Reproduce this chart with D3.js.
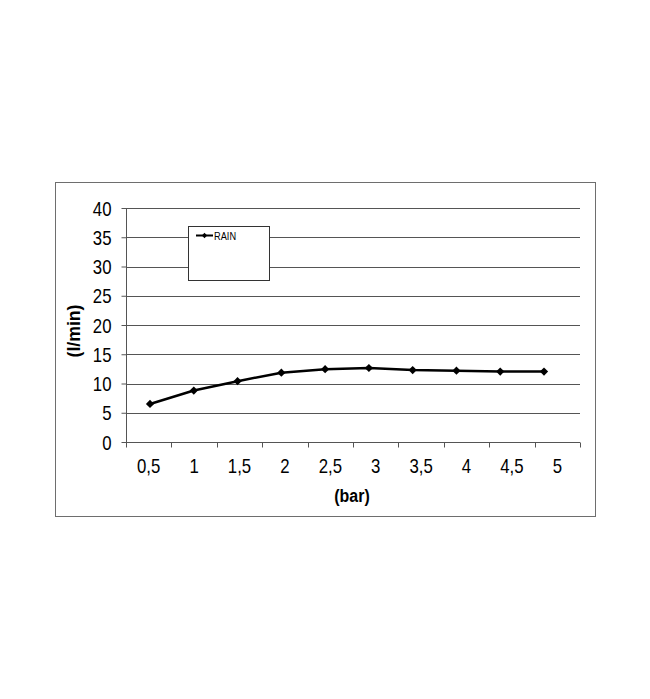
<!DOCTYPE html>
<html>
<head>
<meta charset="utf-8">
<script src="https://cdn.jsdelivr.net/npm/d3@7"></script>
<style>
  html, body { margin: 0; padding: 0; background: #fff; }
  svg { display: block; }
  text { font-family: "Liberation Sans Narrow", "Arial Narrow", "Liberation Sans", Arial, sans-serif; fill: #000; }
</style>
</head>
<body>
<svg id="chart" width="650" height="699"></svg>
<script>
// ---- data ----
const categories = ["0,5", "1", "1,5", "2", "2,5", "3", "3,5", "4", "4,5", "5"];
const rainValues = [6.5, 8.8, 10.4, 11.85, 12.45, 12.65, 12.3, 12.2, 12.05, 12.05];
const yTicks = [0, 5, 10, 15, 20, 25, 30, 35, 40];
const seriesName = "RAIN";
const xTitle = "(bar)";
const yTitle = "(l/min)";

// ---- layout ----
const svg = d3.select("#chart");
const plot = { left: 126, right: 580, top: 208, bottom: 442 };
const narrow = 0.84;

svg.append("rect")
  .attr("x", 55.5).attr("y", 182.5).attr("width", 540).attr("height", 334)
  .attr("fill", "none").attr("stroke", "#6e6e6e").attr("stroke-width", 1);

const x = d3.scaleBand().domain(categories).range([plot.left, plot.right]).padding(0);
// marker positions (series drawn slightly compressed as in the reference)
const xp = d3.scalePoint().domain(categories).range([150, 544]);
const y = d3.scaleLinear().domain([0, 40]).range([plot.bottom, plot.top]);

// gridlines
svg.append("g").selectAll("line")
  .data(yTicks.filter(d => d > 0))
  .join("line")
  .attr("x1", plot.left).attr("x2", plot.right)
  .attr("y1", d => Math.round(y(d)) + 0.5).attr("y2", d => Math.round(y(d)) + 0.5)
  .attr("stroke", "#555").attr("stroke-width", 1);

// y axis
const yAxis = svg.append("g")
  .attr("transform", `translate(${plot.left + 0.5},0)`)
  .call(d3.axisLeft(y).tickValues(yTicks).tickSize(5).tickPadding(9).tickFormat(d3.format("d")));
yAxis.select(".domain").attr("stroke", "#555").attr("d", `M-0,${plot.top}V${plot.bottom}`);
yAxis.selectAll(".tick line").attr("stroke", "#555");
yAxis.selectAll(".tick text")
  .attr("font-size", 20).attr("dy", "0.35em")
  .attr("x", -15 / narrow)
  .attr("transform", `scale(${narrow},1)`);

// x axis
const xAxis = svg.append("g")
  .attr("transform", `translate(0,${plot.bottom + 0.5})`)
  .call(d3.axisBottom(x).tickSize(0).tickPadding(16));
xAxis.select(".domain").attr("stroke", "#555").attr("d", `M${plot.left},0H${plot.right}`);
xAxis.selectAll(".tick text")
  .attr("font-size", 20).attr("dy", "0.71em")
  .attr("transform", `scale(${narrow},1)`);
// tick marks at category boundaries
const boundaries = categories.map(c => x(c)).concat([x(categories[categories.length - 1]) + x.bandwidth()]);
xAxis.append("g").selectAll("line")
  .data(boundaries)
  .join("line")
  .attr("x1", d => Math.round(d) + 0.5).attr("x2", d => Math.round(d) + 0.5)
  .attr("y1", 0).attr("y2", 5)
  .attr("stroke", "#555");

// titles
svg.append("text")
  .attr("transform", `translate(352,502) scale(${narrow},1)`)
  .attr("text-anchor", "middle")
  .attr("font-size", 19).attr("font-weight", "bold")
  .text(xTitle);
svg.append("text")
  .attr("transform", "translate(80,331) rotate(-90)")
  .attr("text-anchor", "middle")
  .attr("font-size", 19).attr("font-weight", "bold")
  .attr("textLength", 53).attr("lengthAdjust", "spacingAndGlyphs")
  .text(yTitle);

// series line
const data = categories.map((c, i) => ({ c, v: rainValues[i] }));
svg.append("path")
  .datum(data)
  .attr("fill", "none").attr("stroke", "#000").attr("stroke-width", 2.5)
  .attr("stroke-linejoin", "round")
  .attr("d", d3.line().x(d => xp(d.c)).y(d => y(d.v)));

const diamond = d3.symbol().type(d3.symbolSquare).size(34);
svg.append("g").selectAll("path")
  .data(data)
  .join("path")
  .attr("transform", d => `translate(${xp(d.c)},${y(d.v)}) rotate(45)`)
  .attr("d", diamond)
  .attr("fill", "#000");

// legend
const lg = svg.append("g");
lg.append("rect")
  .attr("x", 188.5).attr("y", 226.5).attr("width", 81).attr("height", 54)
  .attr("fill", "#fff").attr("stroke", "#333").attr("stroke-width", 1);
lg.append("line")
  .attr("x1", 196).attr("x2", 213).attr("y1", 235.5).attr("y2", 235.5)
  .attr("stroke", "#000").attr("stroke-width", 2);
lg.append("path")
  .attr("transform", "translate(204.5,235.5) rotate(45)")
  .attr("d", d3.symbol().type(d3.symbolSquare).size(14))
  .attr("fill", "#000");
lg.append("text")
  .attr("transform", `translate(214,239.5) scale(${narrow},1)`)
  .attr("font-size", 11)
  .text(seriesName);
</script>
</body>
</html>
